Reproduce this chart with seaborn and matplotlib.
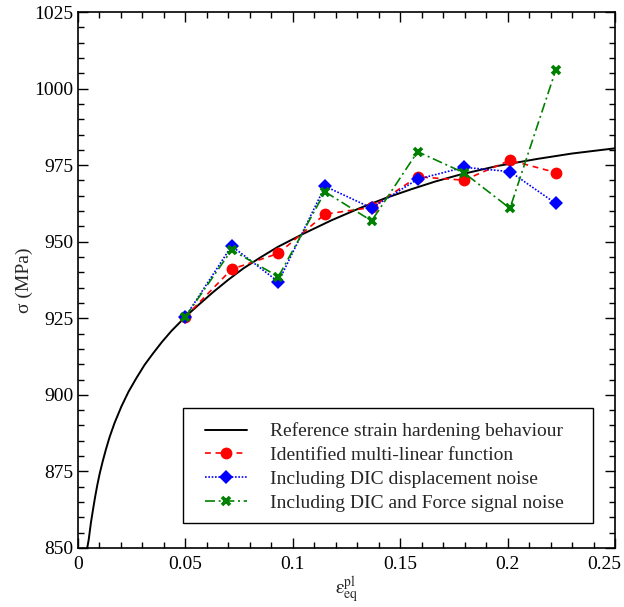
import numpy as np
import pandas as pd
import matplotlib
matplotlib.use("Agg")
import matplotlib.pyplot as plt
import seaborn as sns
from matplotlib.ticker import MultipleLocator
from matplotlib.patches import Rectangle
from matplotlib.transforms import ScaledTranslation

# reference hardening curve
ref_x = [0.0043, 0.005, 0.006, 0.007, 0.008, 0.009, 0.0101, 0.0115, 0.013,
         0.0147, 0.017, 0.0202, 0.0235, 0.0272, 0.031, 0.0349, 0.039, 0.0434,
         0.05, 0.056, 0.063, 0.07, 0.077, 0.085, 0.093, 0.1049, 0.118, 0.1313,
         0.143, 0.155, 0.1665, 0.1778, 0.195, 0.2135, 0.23, 0.25]
ref_y = [850.0, 852.8, 858.2, 862.6, 866.8, 870.6, 874.3, 878.3, 882.2,
         886.2, 890.8, 896.2, 901.0, 905.5, 909.8, 913.5, 917.2, 920.8,
         925.5, 929.3, 933.6, 937.6, 941.3, 944.9, 948.3, 952.6, 957.0, 961.0,
         964.2, 967.1, 969.7, 971.9, 974.7, 977.0, 978.8, 980.5]

strain = [0.05, 0.0715, 0.0933, 0.115, 0.1367, 0.1581, 0.1797, 0.2011, 0.2224]
identified = [925.5, 941.0, 946.2, 959.0, 961.2, 971.2, 970.1, 976.6, 972.6]
dic_noise = [925.5, 948.6, 936.9, 968.1, 961.0, 970.4, 974.3, 972.9, 962.5]
dic_force_noise = [925.5, 947.3, 938.6, 966.3, 956.8, 979.4, 972.5, 960.9, 1006.0]

sns.set_style("ticks")
plt.rcParams["font.family"] = ["Liberation Serif", "DejaVu Serif"]
plt.rcParams["mathtext.fontset"] = "stix"

fig = plt.figure(figsize=(6.24, 6.07), dpi=100)
ax = fig.add_axes([0.125, 0.0972, 0.8606, 0.883])

ref = pd.DataFrame({"x": ref_x, "y": ref_y})
sns.lineplot(data=ref, x="x", y="y", ax=ax, color="black", lw=1.4,
             sort=False, label="Reference strain hardening behaviour")

sns.lineplot(x=strain, y=identified, ax=ax, color="red", lw=1.2,
             linestyle=(0, (3.5, 2.8)), marker="o", markersize=8.5,
             markeredgewidth=0, label="Identified multi-linear function")
sns.lineplot(x=strain, y=dic_noise, ax=ax, color="blue", lw=1.2,
             linestyle=(0, (1, 1)), marker="D", markersize=7.5,
             markeredgewidth=0, label="Including DIC displacement noise")
sns.lineplot(x=strain, y=dic_force_noise, ax=ax, color="#008000", lw=1.2,
             linestyle=(0, (6, 2.2, 1.2, 2.2)), marker="x", markersize=6,
             markeredgewidth=2.6, markeredgecolor="#008000",
             label="Including DIC and Force signal noise")

ax.set_xlim(0, 0.25)
ax.set_ylim(850, 1025)
ax.xaxis.set_minor_locator(MultipleLocator(0.01))
ax.yaxis.set_major_locator(MultipleLocator(25))
ax.yaxis.set_minor_locator(MultipleLocator(5))
ax.set_xticks([0, 0.05, 0.1, 0.15, 0.2, 0.25])
ax.set_xticklabels(["0", "0.05", "0.1", "0.15", "0.2", "0.25"])
ax.tick_params(which="both", direction="in", top=True, right=True,
               labelsize=14, width=1.0, color="black", labelcolor="black")
ax.tick_params(which="major", length=7)
ax.tick_params(which="minor", length=4)
ax.tick_params(axis="x", pad=6)
for s in ax.spines.values():
    s.set_linewidth(1.2)
    s.set_color("black")

# last x label sits a bit inside the figure edge
last = ax.get_xticklabels()[-1]
last.set_transform(last.get_transform() + ScaledTranslation(-0.11, 0, fig.dpi_scale_trans))

ax.set_xlabel(r"$\mathrm{ε}^{\mathrm{pl}}_{\mathrm{eq}}$", fontsize=14, labelpad=1)
ax.set_ylabel("σ (MPa)", fontsize=14, labelpad=1)

leg = ax.legend(loc="lower left", bbox_to_anchor=(0.216, 0.0466), fontsize=14,
                frameon=False, handlelength=2.16, borderpad=0.57,
                labelspacing=0.32, handletextpad=1.18, borderaxespad=0)
ax.add_patch(Rectangle((0.1955, 0.0466), 0.959 - 0.1955, 0.261 - 0.0466,
                       transform=ax.transAxes, fill=False, edgecolor="black",
                       lw=1.0, zorder=5))

fig.savefig("out.png", dpi=100)
